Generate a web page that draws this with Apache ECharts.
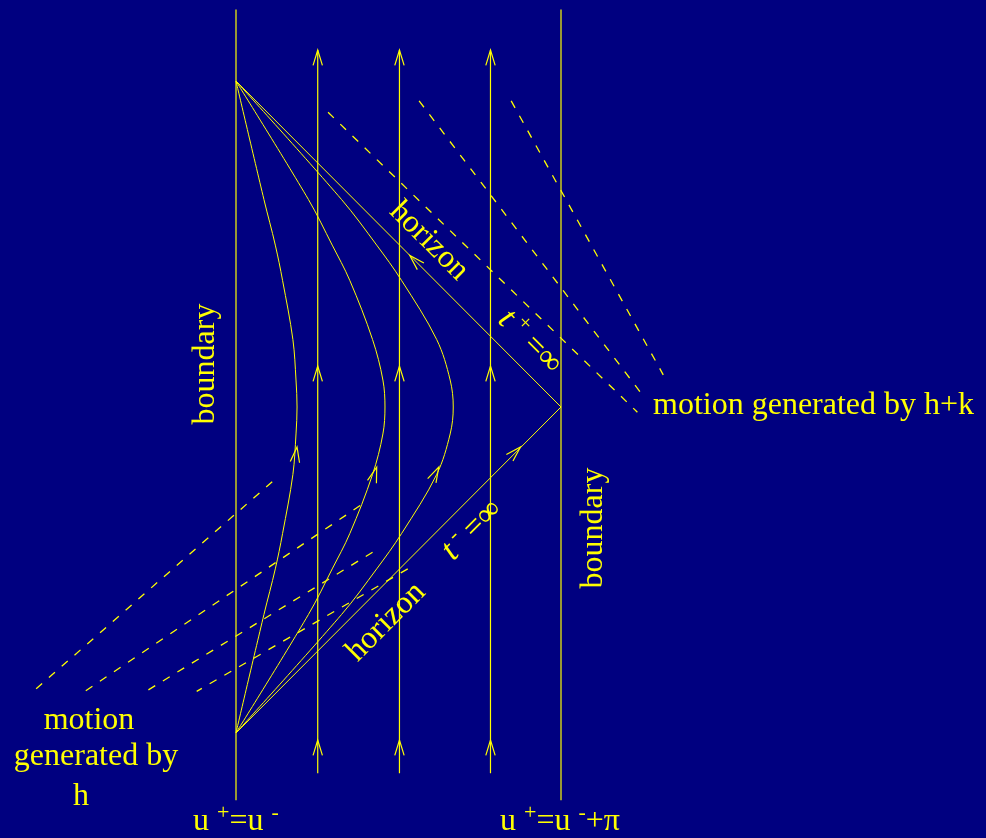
<!DOCTYPE html>
<html lang="en">
<head>
    <meta charset="UTF-8">
    <title>Poincare patch orbits</title>
    <script src="https://cdn.jsdelivr.net/npm/echarts@6/dist/echarts.min.js"></script>
    <style>
        html, body { margin: 0; padding: 0; background: #000080; }
        #chart { width: 986px; height: 838px; }
    </style>
</head>
<body>
    <div id="chart"></div>
    <script>
        // diagram coordinates: sigma across the strip (0 .. pi), tau up the strip
        var PI = Math.PI;

        // the two boundaries of the strip and their extent in tau
        var boundarySigma = [0, PI];
        var boundarySpan = [3.83, -3.79];

        // vertical flow lines (orbits of h+k) and their extent
        var flowSigma = [0.79, 1.58, 2.46];
        var flowSpan = [3.44, -3.53];

        // horizon: top corner -> right corner -> bottom corner
        var horizon = [[0, PI], [PI, 0], [0, -PI]];

        // orbits of h (upper and lower halves)
        var curve1 = [[0, 3.14], [0.27, 2.0], [0.38, 1.56], [0.45, 1.22], [0.55, 0.65], [0.58, 0.26], [0.59, 0],
                      [0.58, -0.26], [0.55, -0.65], [0.45, -1.22], [0.38, -1.56], [0.27, -2.0], [0, -3.14]];
        var curve2 = [[0, 3.14], [0.70, 2.0], [0.93, 1.56], [1.10, 1.22], [1.32, 0.65], [1.42, 0.26], [1.44, 0],
                      [1.42, -0.26], [1.32, -0.65], [1.10, -1.22], [0.93, -1.56], [0.70, -2.0], [0, -3.14]];
        var curve3 = [[0, 3.14], [1.02, 2.0], [1.36, 1.56], [1.60, 1.22], [1.94, 0.65], [2.07, 0.26], [2.10, 0],
                      [2.07, -0.26], [1.94, -0.65], [1.60, -1.22], [1.36, -1.56], [1.02, -2.0], [0, -3.14]];

        // dashed leader lines
        var dashTop = [
            [[0.89, 2.84], [3.88, -0.05]],
            [[1.77, 2.95], [3.93, 0.115]],
            [[2.66, 2.95], [4.13, 0.31]]
        ];
        var dashBottom = [
            [[0.35, -0.72], [-1.96, -2.74]],
            [[1.20, -0.95], [-1.46, -2.74]],
            [[1.32, -1.40], [-0.87, -2.74]],
            [[1.66, -1.56], [-0.38, -2.74]]
        ];

        // arrow heads: sigma, tau, direction (degrees, screen)
        var arrows = [
            [0.79, 3.44, 90], [0.79, 0.395, 90], [0.79, -3.21, 90],
            [1.58, 3.44, 90], [1.58, 0.395, 90], [1.58, -3.21, 90],
            [2.46, 3.44, 90], [2.46, 0.395, 90], [2.46, -3.21, 90],
            [0.59, -0.385, 82], [1.36, -0.58, 72], [1.96, -0.58, 63],
            [1.68, 1.46, 135], [2.75, -0.385, 45]
        ];

        var yellow = '#ffff00';
        var serif = 'Liberation Serif';

        // the strip spans x 236..561 and tau = +-pi spans y 81..733
        var kx = 325 / PI, ky = 326 / PI;
        var xMin = -236 / kx, xMax = (986 - 236) / kx;
        var yMax = 407 / ky, yMin = -(838 - 407) / ky;

        function lineSeries(data, opts) {
            opts = opts || {};
            return {
                type: 'line',
                data: data,
                symbol: 'none',
                clip: false,
                silent: true,
                smooth: opts.smooth || false,
                lineStyle: {
                    color: yellow,
                    width: opts.width || 1,
                    type: opts.dash || 'solid'
                }
            };
        }

        var series = [];
        boundarySigma.forEach(function (s) {
            series.push(lineSeries([[s, boundarySpan[0]], [s, boundarySpan[1]]], { width: 1.2 }));
        });
        flowSigma.forEach(function (s) {
            series.push(lineSeries([[s, flowSpan[0]], [s, flowSpan[1]]], { width: 1.2 }));
        });
        series.push(lineSeries(horizon));
        [curve1, curve2, curve3].forEach(function (c) {
            series.push(lineSeries(c, { smooth: 0.35 }));
        });
        dashTop.concat(dashBottom).forEach(function (d) {
            series.push(lineSeries(d, { dash: [8, 9], width: 1.3 }));
        });

        series.push({
            type: 'custom',
            data: arrows,
            silent: true,
            encode: { x: 0, y: 1 },
            renderItem: function (params, api) {
                var p = api.coord([api.value(0), api.value(1)]);
                var a = api.value(2) * PI / 180;
                var L = 16, h = 17 * PI / 180;
                var w1 = [p[0] - L * Math.cos(a - h), p[1] + L * Math.sin(a - h)];
                var w2 = [p[0] - L * Math.cos(a + h), p[1] + L * Math.sin(a + h)];
                return {
                    type: 'polyline',
                    shape: { points: [w1, p, w2] },
                    style: { stroke: yellow, lineWidth: 1.2, fill: null }
                };
            }
        });

        function label(text, x, y, rot, extra) {
            var style = {
                text: text,
                fill: yellow,
                font: '32px "' + serif + '"',
                align: 'center',
                verticalAlign: 'middle',
                textAlign: 'center',
                textVerticalAlign: 'middle'
            };
            if (extra) {
                for (var key in extra) style[key] = extra[key];
            }
            return { type: 'text', x: x, y: y, rotation: rot || 0, silent: true, style: style };
        }

        var rich = {
            n: { fontSize: 32, fontFamily: serif, color: yellow, lineHeight: 40 },
            i: { fontSize: 34, fontFamily: serif, fontStyle: 'italic', color: yellow, lineHeight: 40 },
            s: { fontSize: 22, fontFamily: serif, color: yellow, lineHeight: 14, verticalAlign: 'top' }
        };

        var graphics = [
            label('boundary', 206, 364, PI / 2),
            label('boundary', 594, 528, PI / 2),
            label('horizon', 429, 241, -PI / 4),
            label('horizon', 386, 622, PI / 4),
            label('motion generated by h+k', 653, 406, 0, { align: 'left', textAlign: 'left' }),
            label('motion', 89, 721, 0),
            label('generated by', 96, 757, 0),
            label('h', 81, 797, 0),
            label('{i|t}{s| +}{n| =∞}', 530, 342, -PI / 4, { rich: rich }),
            label('{i|t}{s| -}{n| =∞}', 472, 530, PI / 4, { rich: rich }),
            label('{n|u }{s|+}{n|=u }{s|-}', 236, 822, 0, { rich: rich }),
            label('{n|u }{s|+}{n|=u }{s|-}{n|+π}', 560, 822, 0, { rich: rich })
        ];

        var chart = echarts.init(document.getElementById('chart'));
        var option = {
            backgroundColor: '#000080',
            animation: false,
            grid: { left: 0, right: 0, top: 0, bottom: 0 },
            xAxis: { type: 'value', min: xMin, max: xMax, show: false },
            yAxis: { type: 'value', min: yMin, max: yMax, show: false },
            series: series,
            graphic: graphics
        };
        chart.setOption(option);
    </script>
</body>
</html>
